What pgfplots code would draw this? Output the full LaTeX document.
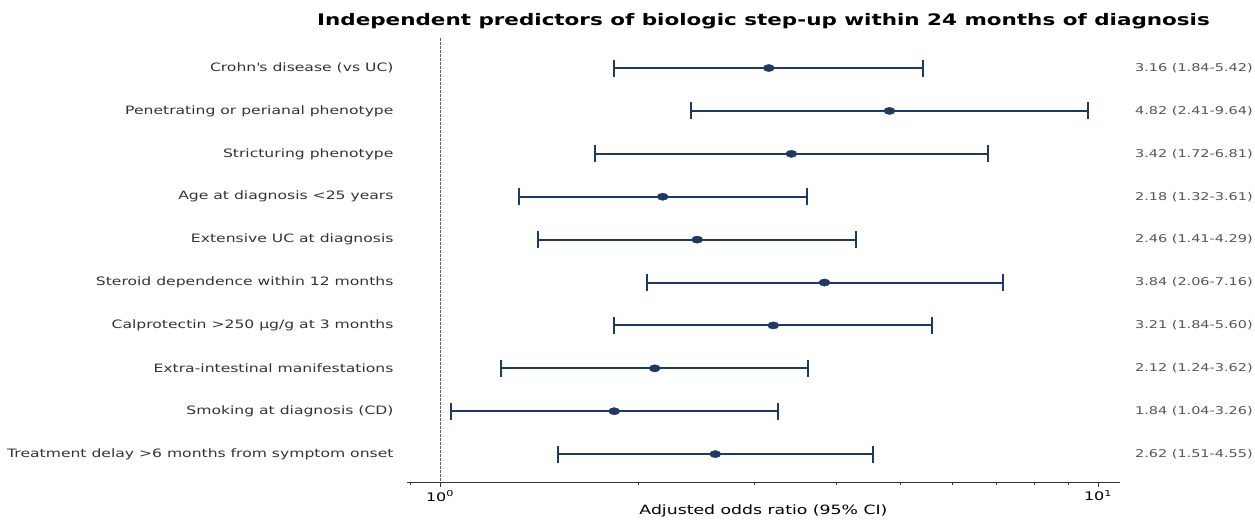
\documentclass[border=0pt]{standalone}
\usepackage{fontspec}
\setmainfont{DejaVu Sans}[FakeStretch=1.35]
\usepackage{pgfplots}
\usepackage{pgfplotstable}
\pgfplotsset{compat=1.18}
\definecolor{navy}{RGB}{31,56,100}
\definecolor{labgray}{RGB}{51,51,51}
\definecolor{anngray}{RGB}{85,85,85}

\pgfplotstableread{
y  or    lo    hi
0  3.16  1.84  5.42
1  4.82  2.41  9.64
2  3.42  1.72  6.81
3  2.18  1.32  3.61
4  2.46  1.41  4.29
5  3.84  2.06  7.16
6  3.21  1.84  5.60
7  2.12  1.24  3.62
8  1.84  1.04  3.26
9  2.62  1.51  4.55
}\data

\begin{document}
\begin{tikzpicture}
\begin{axis}[
  name=ax,
  scale only axis,
  width=713pt, height=444pt,
  xmode=log,
  xmin=0.891, xmax=10.8,
  ymin=-0.7, ymax=9.65,
  y dir=reverse,
  clip=false,
  axis x line*=bottom,
  axis y line*=left,
  y axis line style={draw=none},
  ytick={0,...,9},
  yticklabels={Crohn\textquotesingle s disease (vs UC),Penetrating or perianal phenotype,Stricturing phenotype,Age at diagnosis <25 years,Extensive UC at diagnosis,Steroid dependence within 12 months,Calprotectin >250 µg/g at 3 months,Extra-intestinal manifestations,Smoking at diagnosis (CD),Treatment delay >6 months from symptom onset},
  ytick style={draw=none},
  yticklabel style={font=\fontsize{11.55}{13}\selectfont, text=labgray, xshift=-5pt},
  xtick={1,10},
  xticklabels={10\textsuperscript{0},10\textsuperscript{1}},
  minor xtick={0.9,2,3,4,5,6,7,8,9},
  xtick style={draw=black!80, line width=0.6pt},
  tick align=outside,
  major tick length=5pt,
  minor tick length=3pt,
  xticklabel style={font=\fontsize{11.8}{13}\selectfont, text=black},
  x axis line style={draw=black!80, line width=0.8pt},
  xlabel={Adjusted odds ratio (95\% CI)},
  xlabel style={font=\fontsize{12.8}{14}\selectfont, yshift=3pt},
  title={\bfseries Independent predictors of biologic step-up within 24 months of diagnosis},
  title style={font=\fontsize{15.9}{18}\selectfont, yshift=0pt},
]
\addplot[draw=black!65, line width=0.9pt, dash pattern=on 2.5pt off 1.5pt] coordinates {(1,-0.7) (1,9.65)};
\addplot[draw=none, mark=none,
  error bars/.cd, x dir=both, x explicit, error bar style={line width=2pt, draw=navy, solid}, error mark=none]
  table[x=or, y=y, x error plus expr=\thisrow{hi}-\thisrow{or}, x error minus expr=\thisrow{or}-\thisrow{lo}] {\data};
\addplot[only marks, mark=|, mark size=8.5pt, mark options={draw=navy, line width=2pt}] table[x=lo, y=y] {\data};
\addplot[only marks, mark=|, mark size=8.5pt, mark options={draw=navy, line width=2pt}] table[x=hi, y=y] {\data};
\addplot[only marks, mark=*, mark size=3.6pt, mark options={fill=navy, draw=navy, xscale=1.55}] table[x=or, y=y] {\data};
\begin{scope}[every node/.style={anchor=west, inner sep=0pt, text=anngray, font=\fontsize{10.7}{12}\selectfont}]
\node at (axis cs:11.38,0) {3.16 (1.84-5.42)};
\node at (axis cs:11.38,1) {4.82 (2.41-9.64)};
\node at (axis cs:11.38,2) {3.42 (1.72-6.81)};
\node at (axis cs:11.38,3) {2.18 (1.32-3.61)};
\node at (axis cs:11.38,4) {2.46 (1.41-4.29)};
\node at (axis cs:11.38,5) {3.84 (2.06-7.16)};
\node at (axis cs:11.38,6) {3.21 (1.84-5.60)};
\node at (axis cs:11.38,7) {2.12 (1.24-3.62)};
\node at (axis cs:11.38,8) {1.84 (1.04-3.26)};
\node at (axis cs:11.38,9) {2.62 (1.51-4.55)};
\end{scope}
\end{axis}
\path[use as bounding box] ([xshift=-407pt,yshift=-33pt]ax.south west) rectangle ([xshift=135pt,yshift=38pt]ax.north east);
\end{tikzpicture}
\end{document}
